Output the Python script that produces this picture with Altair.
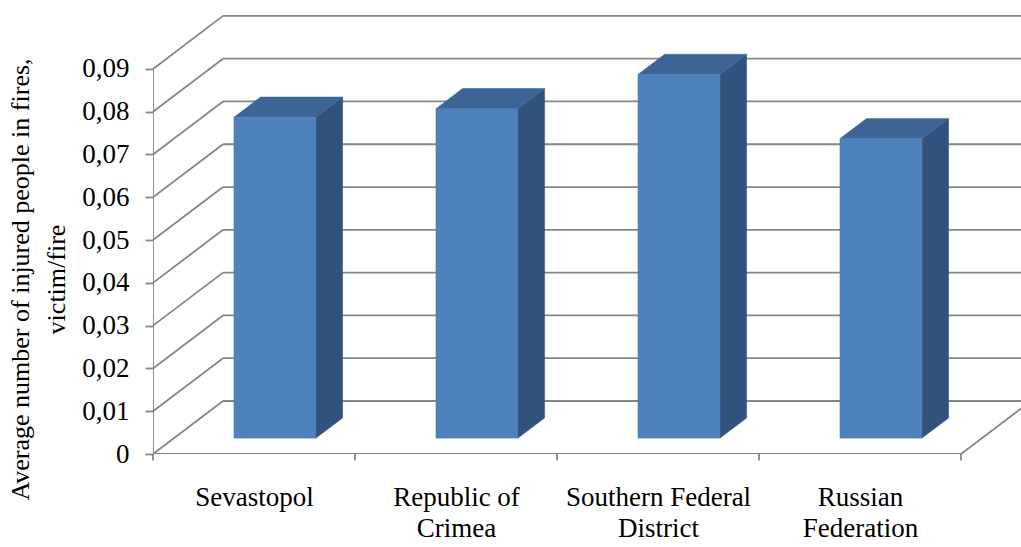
import json
import altair as alt
import pandas as pd

# ---- data ----
categories = ["Sevastopol", "Republic of Crimea", "Southern Federal District", "Russian Federation"]
label_lines = [["Sevastopol"], ["Republic of", "Crimea"], ["Southern Federal", "District"], ["Russian", "Federation"]]
values = [0.075, 0.077, 0.085, 0.070]
y_ticks = [0.0, 0.01, 0.02, 0.03, 0.04, 0.05, 0.06, 0.07, 0.08, 0.09]
y_title = ["Average number of injured people in fires,", "victim/fire"]

# ---- 3-D look (style constants) ----
DEPTH_X = 0.3465     # back-wall shift in category units
DEPTH_Y = 0.01239    # back-wall shift in value units
BAR_W = 0.406
F0, F1 = 0.30, 0.68  # bar front / back depth fractions
X_MAX = 4.297
Y_MAX = 0.1026
TICK_LEN = 0.0015
FONT = "Liberation Serif"
GRID = "#868686"
FRONT = "#4f81bd"
SIDE = "#30527c"
TOP = "#3c6596"

n = len(categories)
xs = alt.Scale(domain=[0, X_MAX], nice=False, zero=False)
ys = alt.Scale(domain=[0, Y_MAX], nice=False, zero=False)

front = pd.DataFrame({
    "cat": categories,
    "x0": [i + 0.5 - BAR_W / 2 + DEPTH_X * F0 for i in range(n)],
    "x1": [i + 0.5 + BAR_W / 2 + DEPTH_X * F0 for i in range(n)],
    "y0": [DEPTH_Y * F0] * n,
    "y1": [v + DEPTH_Y * F0 for v in values],
})

side_rows, top_rows = [], []
for i, (c, v) in enumerate(zip(categories, values)):
    for f in (F0, F1):
        side_rows.append({"cat": c, "x": i + 0.5 + BAR_W / 2 + DEPTH_X * f,
                          "ylo": DEPTH_Y * f, "yhi": v + DEPTH_Y * f})
        top_rows.append({"cat": c, "y": v + DEPTH_Y * f,
                         "xl": i + 0.5 - BAR_W / 2 + DEPTH_X * f,
                         "xr": i + 0.5 + BAR_W / 2 + DEPTH_X * f})
side = pd.DataFrame(side_rows)
top = pd.DataFrame(top_rows)

back = pd.DataFrame({"x": [DEPTH_X] * len(y_ticks), "x2": [n + DEPTH_X] * len(y_ticks),
                     "y": [v + DEPTH_Y for v in y_ticks]})
diag = pd.DataFrame({"x": [0.0] * len(y_ticks), "x2": [DEPTH_X] * len(y_ticks),
                     "y": y_ticks, "y2": [v + DEPTH_Y for v in y_ticks]})
edges = pd.DataFrame({"x": [float(n), 0.0, 0.0], "x2": [n + DEPTH_X, float(n), 0.0],
                      "y": [0.0, 0.0, 0.0], "y2": [DEPTH_Y, 0.0, max(y_ticks)]})
xticks = pd.DataFrame({"x": [float(i) for i in range(n + 1)],
                       "y": [0.0] * (n + 1), "y2": [-TICK_LEN] * (n + 1)})

x_axis = alt.Axis(values=[i + 0.5 for i in range(n)],
                  labelExpr=f"{json.dumps(label_lines)}[floor(datum.value)]",
                  title=None, domain=False, grid=False, ticks=False, tickSize=0,
                  labelFont=FONT, labelFontSize=27, labelColor="black", labelLimit=400,
                  labelLineHeight=31, labelBaseline="alphabetic", labelPadding=51,
                  labelAngle=0, labelAlign="center", labelFlush=False,
                  labelOverlap=False, labelBound=False)
y_axis = alt.Axis(values=y_ticks,
                  labelExpr="datum.value == 0 ? '0' : replace(format(datum.value, '.2f'), '.', ',')",
                  title=y_title, titleFont=FONT, titleFontSize=26, titleFontWeight="normal",
                  titleColor="black", titleAngle=270, titleAlign="center", titleLimit=600,
                  titleBaseline="alphabetic", titleX=-125, titleY=264, titleLineHeight=36,
                  domain=False, grid=False, tickSize=8, tickColor=GRID, tickWidth=1.8,
                  labelFont=FONT, labelFontSize=27, labelColor="black", labelPadding=16)


def X(field):
    return alt.X(field, scale=xs, axis=x_axis)


def Y(field):
    return alt.Y(field, scale=ys, axis=y_axis)


back_l = alt.Chart(back).mark_rule(color=GRID, strokeWidth=1.8, clip=True).encode(
    x=X("x:Q"), x2="x2:Q", y=Y("y:Q"))
diag_l = alt.Chart(diag).mark_rule(color=GRID, strokeWidth=1.8).encode(
    x=X("x:Q"), x2="x2:Q", y=Y("y:Q"), y2="y2:Q")
edge_l = alt.Chart(edges).mark_rule(color=GRID, strokeWidth=1.8, clip=True).encode(
    x=X("x:Q"), x2="x2:Q", y=Y("y:Q"), y2="y2:Q")
tick_l = alt.Chart(xticks).mark_rule(color=GRID, strokeWidth=1.8).encode(
    x=X("x:Q"), y=Y("y:Q"), y2="y2:Q")

side_l = alt.Chart(side).mark_area(orient="vertical", color=SIDE, stroke=SIDE, strokeWidth=0.5).encode(
    x=X("x:Q"), y=Y("yhi:Q"), y2="ylo:Q", detail="cat:N")
top_l = alt.Chart(top).mark_area(orient="horizontal", color=TOP, stroke=TOP, strokeWidth=0.5).encode(
    y=Y("y:Q"), x=X("xl:Q"), x2="xr:Q", detail="cat:N")
front_l = alt.Chart(front).mark_rect(color=FRONT, stroke="#4a7ab3", strokeWidth=0.6).encode(
    x=X("x0:Q"), x2="x1:Q", y=Y("y0:Q"), y2="y1:Q")

chart = alt.layer(back_l, diag_l, edge_l, tick_l, side_l, top_l, front_l).properties(
    width=868, height=439,
    autosize=alt.AutoSizeParams(type="none"),
    padding={"left": 153, "top": 15, "right": 0, "bottom": 93},
    background="white",
).configure_view(stroke=None)

chart.save("out.html", embed_options={"renderer": "svg", "actions": False})
